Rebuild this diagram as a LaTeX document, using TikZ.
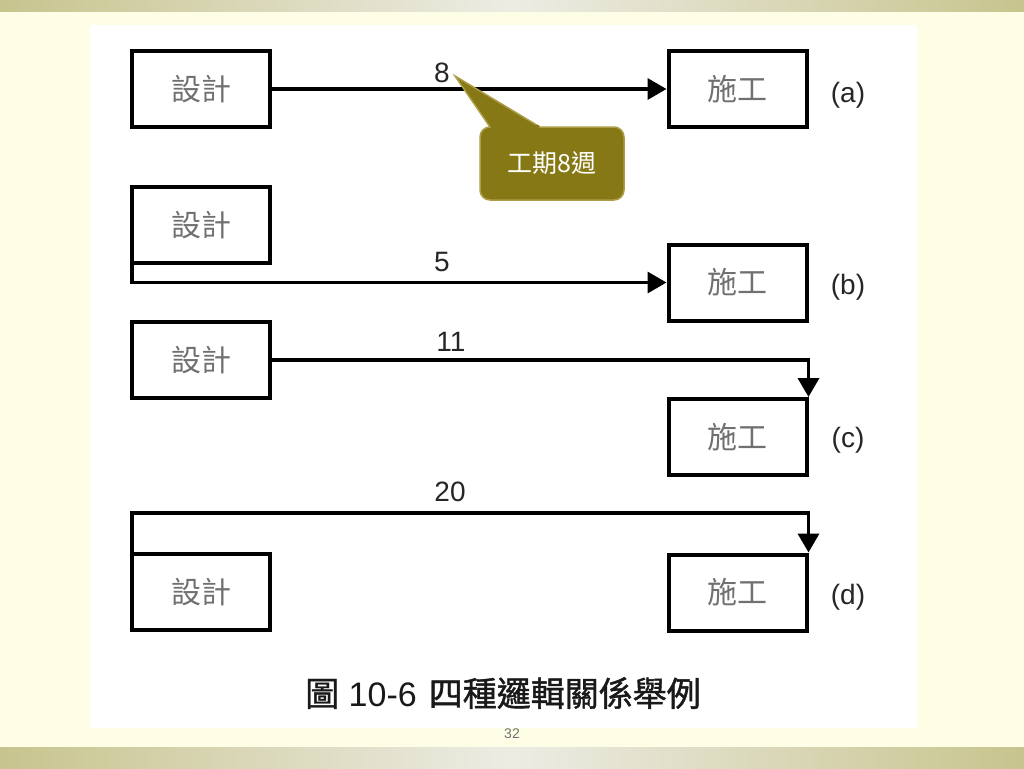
\documentclass[tikz,border=0pt]{standalone}
\usepackage{fontspec}
\setmainfont{Liberation Sans}
\newfontfamily\cjk{Noto Sans CJK TC}
\newfontfamily\cjkbold[FakeBold=1.2]{Noto Sans CJK TC}
\usetikzlibrary{arrows.meta,calc}
\definecolor{bandolive}{RGB}{200,196,142}
\definecolor{bandlight}{RGB}{236,236,228}
\definecolor{creambg}{RGB}{254,254,230}
\definecolor{calloutolive}{RGB}{134,120,20}
\definecolor{calloutrim}{RGB}{172,158,72}
\definecolor{boxtext}{RGB}{112,112,112}

\begin{document}
\begin{tikzpicture}[x=1pt,y=-1pt,
  blk/.style={draw,line width=4pt,minimum width=138pt,minimum height=76pt,inner sep=0pt,text=boxtext,font=\cjk\fontsize{30}{30}\selectfont},
  lnk/.style={line width=3.5pt,-{Triangle[length=19pt,width=21pt]}},
  num/.style={inner sep=0pt,text=black!85,font=\fontsize{28}{28}\selectfont},
  tag/.style={inner sep=0pt,text=black!85,font=\fontsize{28}{28}\selectfont}]
\fill[creambg] (0,0) rectangle (1024,768);
\useasboundingbox (0,0) rectangle (1024,768);
\shade[left color=bandolive,right color=bandolive,middle color=bandlight] (0,0) rectangle (1024,12);
\shade[left color=bandolive,right color=bandolive,middle color=bandlight] (0,747) rectangle (1024,768);
\fill[white] (90,25) rectangle (917,728);

\node[blk] (s1) at (201,89) {設計};
\node[blk] (w1) at (737.5,89) {施工};
\node[blk] (s2) at (201,225) {設計};
\node[blk] (w2) at (737.5,282.5) {施工};
\node[blk] (s3) at (201,360) {設計};
\node[blk] (w3) at (737.5,437) {施工};
\node[blk] (s4) at (201,592) {設計};
\node[blk] (w4) at (737.5,592.5) {施工};

\node[tag] (ta) at (848,95) {(a)};
\node[tag] (tb) at (848,287) {(b)};
\node[tag] (tc) at (848,440) {(c)};
\node[tag] (td) at (848,597) {(d)};

\draw[lnk] (s1.east) -- (w1.west);
\draw[lnk] ($(s2.south west)+(1.75,0)$) |- (w2.west);
\draw[lnk] (s3.east) -| (w3.north east);
\draw[lnk] ($(s4.north west)+(1.75,0)$) -- ++(0,-39) -| (w4.north east);

\node[num] (n8) at (442,73) {8};
\node[num] (n5) at (442,262) {5};
\node[num] (n11) at (451,342) {11};
\node[num] (n20) at (450,492) {20};

\node[fill=calloutolive,draw=calloutrim,line width=1.5pt,rounded corners=10pt,minimum width=144pt,minimum height=73pt,text=white,font=\cjk\fontsize{25}{25}\selectfont] (call) at (552,163.5) {工期8週};
\coordinate (tip) at ($(n8.east)+(5,3)$);
\filldraw[fill=calloutolive,draw=calloutrim,line width=1.5pt,line join=miter] ($(call.north)+(-62,0.75)$) -- (tip) -- ($(call.north)+(-12,0.75)$);
\fill[calloutolive] ($(call.north)+(-61,-1)$) rectangle ($(call.north)+(-13,3)$);

\node[text=black!90,font=\fontsize{34}{34}\selectfont] (cap) at (503,693) {{\cjkbold 圖} 10-6\hspace{12pt}{\cjkbold 四種邏輯關係舉例}};
\node[text=black!55,font=\fontsize{14}{14}\selectfont] (pg) at (512,734) {32};
\end{tikzpicture}
\end{document}
